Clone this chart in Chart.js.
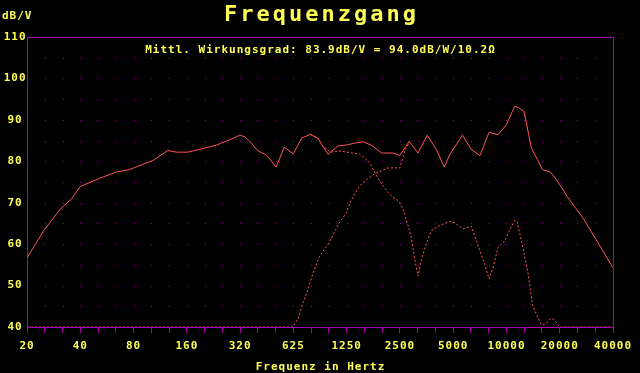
<!DOCTYPE html>
<html lang="de">
<head>
<meta charset="UTF-8">
<title>Frequenzgang</title>
<script src="https://cdn.jsdelivr.net/npm/chart.js"></script>
<style>
  body { margin: 0; background: #000; }
  #wrap { width: 640px; height: 373px; }
</style>
</head>
<body>
<div id="wrap"><canvas id="fg"></canvas></div>
<script>
// octave ticks (20 * 2^n), labelled the way the measurement software does it
const octaveHz = [20, 40, 80, 160, 320, 640, 1280, 2560, 5120, 10240, 20480, 40960];
const octaveLabels = ['20', '40', '80', '160', '320', '625', '1250', '2500', '5000', '10000', '20000', '40000'];

// summed response (solid)
const totalHz = [20, 25, 30.6, 35.6, 40, 51.5, 64, 76, 87, 103, 125, 140, 162, 189, 235, 280, 319,
  340, 363, 404, 451, 512, 568, 639, 713, 799, 878, 1004, 1144, 1303, 1422, 1585, 1767, 2013,
  2341, 2557, 2890, 3241, 3653, 4119, 4557, 4894, 5776, 6491, 7260, 8162, 9180, 10210, 11408,
  11940, 12872, 14172, 16354, 18145, 19620, 22820, 27730, 33710, 40960];
const totalDb = [56.7, 63.4, 68.3, 70.9, 73.9, 75.9, 77.4, 78.0, 79.0, 80.2, 82.6, 82.2, 82.2, 82.9, 83.9, 85.2, 86.3,
  85.9, 84.8, 82.5, 81.5, 78.6, 83.4, 81.8, 85.6, 86.5, 85.6, 81.7, 83.7, 84.0, 84.4, 84.7, 83.9, 82.0,
  82.0, 81.4, 84.8, 82.0, 86.3, 82.8, 78.6, 81.6, 86.3, 82.8, 81.4, 87.0, 86.4, 88.8, 93.3,
  93.0, 92.0, 83.2, 78.0, 77.4, 75.6, 71.2, 66.3, 60.3, 54.3];

// tweeter branch (dotted)
const tweeterHz = [20, 637, 680, 726, 774, 826, 894, 950, 1004, 1072, 1159, 1265, 1362, 1484, 1585,
  1844, 2194, 2557, 2724, 2908];
const tweeterDb = [40, 40, 42.0, 45.9, 49.0, 53.0, 56.8, 58.6, 60.0, 62.2, 65.1, 67.3, 70.7, 73.5, 74.9,
  77.0, 78.4, 78.4, 82.4, 84.8];

// woofer branch (dotted)
const wooferHz = [800, 878, 940, 1040, 1170, 1333, 1518, 1620, 1729, 1804, 1925, 2055, 2194, 2341, 2497,
  2610, 2724, 2846, 2975, 3106, 3241, 3387, 3617, 3859, 4296, 4894, 5224, 5821, 6491, 6776, 7260,
  7717, 8162, 8597, 9180, 10015, 10683, 11408, 11756, 12456, 13560, 14358, 15114, 16150, 17224,
  18100, 18940, 20030, 20400, 40960];
const wooferDb = [86.5, 85.6, 83.6, 82.2, 82.5, 82.1, 81.7, 80.8, 79.6, 78.1, 75.9, 74.0, 72.5, 71.3, 70.5,
  69.3, 67.1, 64.5, 61.5, 56.3, 52.3, 56.3, 60.3, 63.3, 64.5, 65.5, 65.1, 63.7, 64.3, 61.9, 58.3,
  55.2, 51.6, 54.3, 59.2, 60.7, 63.5, 65.7, 65.5, 60.7, 53.0, 45.4, 43.0, 40.5, 40.9,
  42.0, 41.9, 40.5, 40, 40];

const YELLOW = '#ffff55';
const MAGENTA = '#aa00aa';
const RED = '#ff5555';
const MONO = "'DejaVu Sans Mono', 'Liberation Mono', monospace";

// third-octave steps for the small ticks and the dot grid
const thirdOctaves = [];
for (let k = 0; k <= 33; k++) thirdOctaves.push(20 * Math.pow(2, k / 3));

function pts(xs, ys) {
  return xs.map((x, i) => ({ x: x, y: ys[i] }));
}

function drawText(ctx, txt, x, y, size, spacing, align) {
  ctx.font = 'bold ' + size + 'px ' + MONO;
  ctx.letterSpacing = spacing + 'px';
  ctx.textAlign = align;
  ctx.textBaseline = 'middle';
  ctx.fillStyle = YELLOW;
  ctx.fillText(txt, align === 'center' ? x + spacing / 2 : x, y);
}

const fgDecor = {
  id: 'fgDecor',
  beforeDraw(chart) {
    chart.ctx.letterSpacing = '1px';
  },
  beforeDatasetsDraw(chart) {
    const { ctx, chartArea: a, scales: { x, y } } = chart;
    ctx.save();
    ctx.fillStyle = MAGENTA;
    for (let k = 1; k < thirdOctaves.length - 1; k++) {
      const px = Math.round(x.getPixelForValue(thirdOctaves[k]));
      for (let db = 45; db < 110; db += 5) {
        ctx.fillRect(px, Math.round(y.getPixelForValue(db)), 1, 1);
      }
    }
    // top and right edge of the frame
    ctx.strokeStyle = MAGENTA;
    ctx.lineWidth = 1;
    ctx.beginPath();
    ctx.moveTo(a.left, Math.round(a.top) + 0.5);
    ctx.lineTo(Math.round(a.right) + 0.5, Math.round(a.top) + 0.5);
    ctx.lineTo(Math.round(a.right) + 0.5, a.bottom);
    ctx.stroke();
    ctx.restore();
  },
  afterDraw(chart) {
    const ctx = chart.ctx;
    ctx.save();
    drawText(ctx, 'dB/V', 2, 16, 11, 1, 'left');
    drawText(ctx, 'Frequenzgang', 320, 15, 22, 3, 'center');
    drawText(ctx, 'Mittl. Wirkungsgrad: 83.9dB/V = 94.0dB/W/10.2\u03A9', 320, 50.5, 11, 1, 'center');
    drawText(ctx, 'Frequenz in Hertz', 320, 367, 11, 1, 'center');
    ctx.restore();
  }
};

const tickFont = { family: MONO, size: 11, weight: 'bold' };

new Chart(document.getElementById('fg'), {
  type: 'line',
  data: {
    datasets: [
      { label: 'Gesamt', data: pts(totalHz, totalDb), borderColor: RED, borderWidth: 1,
        pointRadius: 0, tension: 0, fill: false },
      { label: 'Hochtöner', data: pts(tweeterHz, tweeterDb), borderColor: RED, borderWidth: 1,
        borderDash: [2, 2], pointRadius: 0, tension: 0, fill: false },
      { label: 'Tieftöner', data: pts(wooferHz, wooferDb), borderColor: RED, borderWidth: 1,
        borderDash: [2, 2], pointRadius: 0, tension: 0, fill: false }
    ]
  },
  options: {
    responsive: true,
    maintainAspectRatio: false,
    animation: false,
    layout: { padding: { top: 37, right: 27, left: 0, bottom: 0 } },
    plugins: { legend: { display: false }, tooltip: { enabled: false } },
    scales: {
      x: {
        type: 'logarithmic',
        min: 20,
        max: 40960,
        afterBuildTicks: s => { s.ticks = thirdOctaves.map(v => ({ value: v })); },
        afterFit: s => { s.height = 46; },
        ticks: {
          autoSkip: false, maxRotation: 0, minRotation: 0, color: YELLOW, font: tickFont, padding: 7,
          callback: (v, i) => (i % 3 === 0 ? octaveLabels[i / 3] : '')
        },
        grid: { drawOnChartArea: false, color: MAGENTA, tickLength: 6, lineWidth: 1 },
        border: { color: MAGENTA }
      },
      y: {
        min: 40,
        max: 110,
        afterFit: s => { s.width = 27; },
        ticks: { stepSize: 10, color: YELLOW, font: tickFont, crossAlign: 'center', padding: 2 },
        grid: { drawOnChartArea: false, drawTicks: false, color: MAGENTA },
        border: { color: MAGENTA }
      }
    }
  },
  plugins: [fgDecor]
});
</script>
</body>
</html>
